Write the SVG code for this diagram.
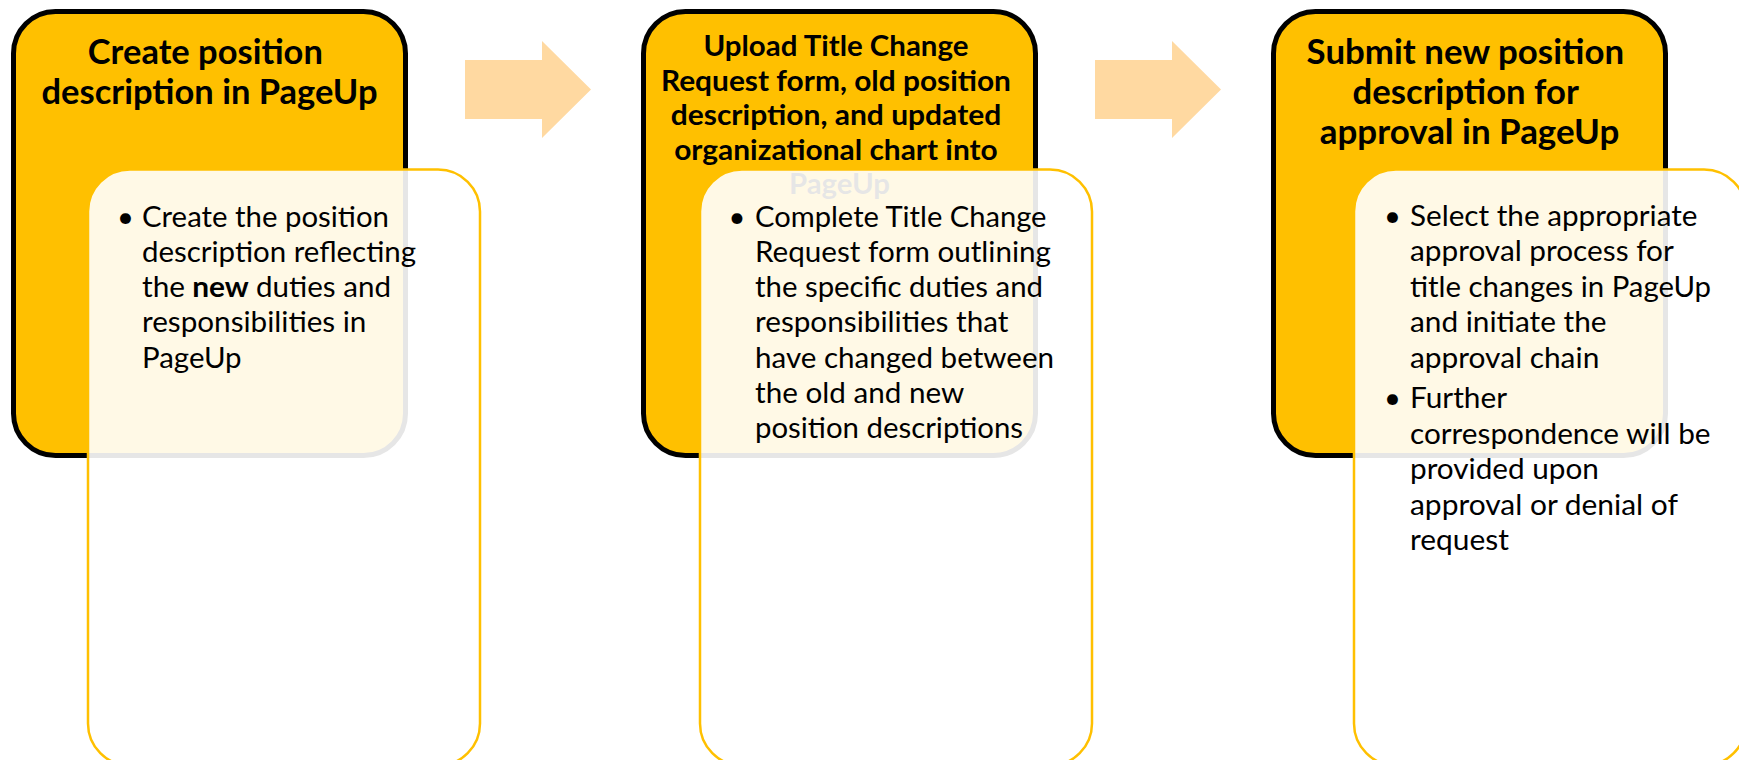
<svg xmlns="http://www.w3.org/2000/svg" width="1739" height="760" viewBox="0 0 1739 760">
  <style>
    .step { fill: #FFC000; stroke: #000000; stroke-width: 5; }
    .detail { fill: #FFFFFF; fill-opacity: 0.9; stroke: #FFC000; stroke-width: 2.5; }
    .arrow { fill: #FFD9A1; }
    .title { font-family: Lato, "Open Sans", "Liberation Sans", sans-serif; font-weight: 700; fill: #000000; text-anchor: middle; }
    .t-lg { font-size: 34px; }
    .t-sm { font-size: 29.2px; }
    .body { font-family: Lato, "Open Sans", "Liberation Sans", sans-serif; font-size: 29.2px; fill: #000000; }
    .bullet { text-anchor: middle; }
    .b { font-weight: 700; }
  </style>

  <!-- process arrows between the steps -->
  <g id="connectors">
    <polygon class="arrow" points="465,60 542,60 542,41 591,89.5 542,138 542,119 465,119"/>
    <polygon class="arrow" points="1095,60 1172,60 1172,41 1221,89.5 1172,138 1172,119 1095,119"/>
  </g>

  <!-- step 1 -->
  <g id="step1">
    <rect class="step" x="13.5" y="11.5" width="392" height="444" rx="42" ry="42"/>
    <text class="title t-lg">
      <tspan x="209.5" y="63.5" textLength="235" lengthAdjust="spacingAndGlyphs">Create position</tspan>
      <tspan x="209.5" y="103.5" textLength="336" lengthAdjust="spacingAndGlyphs">description in PageUp</tspan>
    </text>
  </g>
  <g id="detail1">
    <rect class="detail" x="88" y="169.5" width="392" height="596" rx="42" ry="42"/>
    <text class="body bullet" x="125.5" y="226.5">•</text>
    <text class="body">
      <tspan x="142" y="226.5" textLength="247" lengthAdjust="spacingAndGlyphs">Create the position</tspan>
      <tspan x="142" y="261.8" textLength="274" lengthAdjust="spacingAndGlyphs">description reflecting</tspan>
      <tspan x="142" y="297.1" textLength="43" lengthAdjust="spacingAndGlyphs">the</tspan>
      <tspan class="b" x="192.2" y="297.1" textLength="56.6" lengthAdjust="spacingAndGlyphs">new</tspan>
      <tspan x="256" y="297.1" textLength="135" lengthAdjust="spacingAndGlyphs">duties and</tspan>
      <tspan x="142" y="332.4" textLength="224.4" lengthAdjust="spacingAndGlyphs">responsibilities in</tspan>
      <tspan x="142" y="367.7" textLength="99.6" lengthAdjust="spacingAndGlyphs">PageUp</tspan>
    </text>
  </g>

  <!-- step 2 -->
  <g id="step2">
    <rect class="step" x="643.5" y="11.5" width="392" height="444" rx="42" ry="42"/>
    <text class="title t-sm">
      <tspan x="839.5" y="56" textLength="265" lengthAdjust="spacingAndGlyphs">Upload Title Change</tspan>
      <tspan x="839.5" y="90.5" textLength="350" lengthAdjust="spacingAndGlyphs">Request form, old position</tspan>
      <tspan x="839.5" y="125" textLength="330.5" lengthAdjust="spacingAndGlyphs">description, and updated</tspan>
      <tspan x="839.5" y="159.5" textLength="323.5" lengthAdjust="spacingAndGlyphs">organizational chart into</tspan>
      <tspan x="839.5" y="194" textLength="101" lengthAdjust="spacingAndGlyphs">PageUp</tspan>
    </text>
  </g>
  <g id="detail2">
    <rect class="detail" x="700" y="169.5" width="392" height="596" rx="42" ry="42"/>
    <text class="body bullet" x="737" y="226.5">•</text>
    <text class="body">
      <tspan x="755" y="226.5" textLength="291.5" lengthAdjust="spacingAndGlyphs">Complete Title Change</tspan>
      <tspan x="755" y="261.8" textLength="296" lengthAdjust="spacingAndGlyphs">Request form outlining</tspan>
      <tspan x="755" y="297.1" textLength="288" lengthAdjust="spacingAndGlyphs">the specific duties and</tspan>
      <tspan x="755" y="332.4" textLength="253.5" lengthAdjust="spacingAndGlyphs">responsibilities that</tspan>
      <tspan x="755" y="367.7" textLength="299" lengthAdjust="spacingAndGlyphs">have changed between</tspan>
      <tspan x="755" y="403" textLength="208.7" lengthAdjust="spacingAndGlyphs">the old and new</tspan>
      <tspan x="755" y="438.3" textLength="268" lengthAdjust="spacingAndGlyphs">position descriptions</tspan>
    </text>
  </g>

  <!-- step 3 -->
  <g id="step3">
    <rect class="step" x="1273.5" y="11.5" width="392" height="444" rx="42" ry="42"/>
    <text class="title t-lg">
      <tspan x="1469.5" y="63.5" textLength="317.5" lengthAdjust="spacingAndGlyphs">Submit new position</tspan>
      <tspan x="1469.5" y="103.5" textLength="225.6" lengthAdjust="spacingAndGlyphs">description for</tspan>
      <tspan x="1469.5" y="143.5" textLength="299.5" lengthAdjust="spacingAndGlyphs">approval in PageUp</tspan>
    </text>
  </g>
  <g id="detail3">
    <rect class="detail" x="1354" y="169.5" width="392" height="596" rx="42" ry="42"/>
    <text class="body bullet" x="1392.5" y="225.5">•</text>
    <text class="body">
      <tspan x="1410" y="225.5" textLength="287.5" lengthAdjust="spacingAndGlyphs">Select the appropriate</tspan>
      <tspan x="1410" y="261" textLength="263.2" lengthAdjust="spacingAndGlyphs">approval process for</tspan>
      <tspan x="1410" y="296.5" textLength="301" lengthAdjust="spacingAndGlyphs">title changes in PageUp</tspan>
      <tspan x="1410" y="332" textLength="196.5" lengthAdjust="spacingAndGlyphs">and initiate the</tspan>
      <tspan x="1410" y="367.5" textLength="189.3" lengthAdjust="spacingAndGlyphs">approval chain</tspan>
    </text>
    <text class="body bullet" x="1392.5" y="408">•</text>
    <text class="body">
      <tspan x="1410" y="408" textLength="96.4" lengthAdjust="spacingAndGlyphs">Further</tspan>
      <tspan x="1410" y="443.5" textLength="300.5" lengthAdjust="spacingAndGlyphs">correspondence will be</tspan>
      <tspan x="1410" y="479" textLength="188.9" lengthAdjust="spacingAndGlyphs">provided upon</tspan>
      <tspan x="1410" y="514.5" textLength="267.4" lengthAdjust="spacingAndGlyphs">approval or denial of</tspan>
      <tspan x="1410" y="550" textLength="98.9" lengthAdjust="spacingAndGlyphs">request</tspan>
    </text>
  </g>
</svg>
